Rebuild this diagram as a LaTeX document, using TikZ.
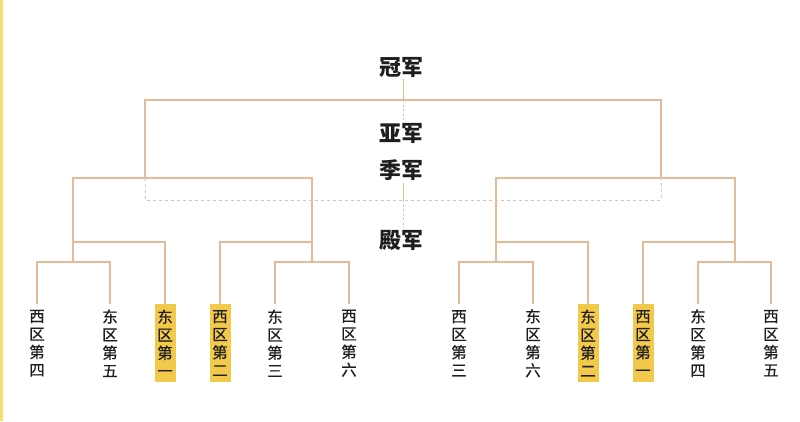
\documentclass[tikz,border=0pt]{standalone}
\usepackage{fontspec}
\newfontfamily\cjk{Noto Sans CJK SC}
\newfontfamily\cjkm[FakeBold=0.5]{Noto Sans CJK SC}
\definecolor{lineC}{HTML}{E4BA98}
\definecolor{dashC}{HTML}{DCC3B2}
\definecolor{dotC}{HTML}{CFC0B6}
\definecolor{boxC}{HTML}{F3C94B}
\definecolor{txtC}{HTML}{1E1E1E}
\definecolor{stripeC}{HTML}{F8DE6A}
\begin{document}
\begin{tikzpicture}[x=1pt,y=-1pt,
  line/.style={draw=lineC, line width=1.2pt},
  dashline/.style={draw=dashC, line width=1pt, dash pattern=on 3pt off 3pt},
  dotline/.style={draw=dotC, line width=1pt, dash pattern=on 2pt off 2.5pt},
  leaf/.style={anchor=north, minimum width=21pt, minimum height=78pt, inner sep=0pt,
    font=\cjkm\fontsize{15.5}{18}\selectfont, align=center, text=txtC},
  hl/.style={leaf, fill=boxC},
  title/.style={font=\cjk\bfseries\fontsize{22}{24}\selectfont, text=txtC, inner sep=2pt}]
\useasboundingbox (0,0) rectangle (800,421);
\fill[white] (0,0) rectangle (800,421);
\fill[stripeC] (0,0) rectangle (3,421);

% titles
\node[title] (champ) at (401,67) {冠军};
\node[title] (second) at (401,133) {亚军};
\node[title] (third) at (401,170) {季军};
\node[title] (fourth) at (401,240) {殿军};

% leaves left
\node[leaf] (l1) at (37,304) {西\\区\\第\\四};
\node[leaf] (l2) at (110,304) {东\\区\\第\\五};
\node[hl]   (l3) at (165,304) {东\\区\\第\\一};
\node[hl]   (l4) at (220,304) {西\\区\\第\\二};
\node[leaf] (l5) at (275,304) {东\\区\\第\\三};
\node[leaf] (l6) at (349,304) {西\\区\\第\\六};
% leaves right
\node[leaf] (l7) at (459,304) {西\\区\\第\\三};
\node[leaf] (l8) at (533,304) {东\\区\\第\\六};
\node[hl]   (l9) at (588,304) {东\\区\\第\\二};
\node[hl]   (l10) at (643,304) {西\\区\\第\\一};
\node[leaf] (l11) at (698,304) {东\\区\\第\\四};
\node[leaf] (l12) at (771,304) {西\\区\\第\\五};

% junctions
\coordinate (r1) at (73,262);
\coordinate (q1) at (73,242);
\coordinate (r2) at (312,262);
\coordinate (q2) at (312,242);
\coordinate (r3) at (496,262);
\coordinate (q3) at (496,242);
\coordinate (r4) at (735,262);
\coordinate (q4) at (735,242);
\coordinate (s1) at (145,178);
\coordinate (s2) at (661,178);
\coordinate (f1) at (145,100);
\coordinate (fc) at (403.5,100);
\coordinate (dc) at (403.5,200);

% bracket lines
\draw[line] (l1.north) |- (r1) -| (l2.north);
\draw[line] (r1) -- (q1) -| (l3.north);
\draw[line] (l5.north) |- (r2) -| (l6.north);
\draw[line] (r2) -- (q2) -| (l4.north);
\draw[line] (l7.north) |- (r3) -| (l8.north);
\draw[line] (r3) -- (q3) -| (l9.north);
\draw[line] (l11.north) |- (r4) -| (l12.north);
\draw[line] (r4) -- (q4) -| (l10.north);
\draw[line] (q1) |- (s1) -| (q2);
\draw[line] (q3) |- (s2) -| (q4);
\draw[line] (s1) -- (f1) -| (s2);

% dashed third-place bracket
\draw[dashline] (s1) -- ++(0,22) -| (s2);

% centre line
\draw[line] (champ.south -| fc) -- (fc);
\draw[dotline] (fc) -- (second.north -| fc);
\draw[line] (third.south -| dc) -- (dc);
\draw[dotline] (dc) -- (fourth.north -| dc);
\end{tikzpicture}
\end{document}
